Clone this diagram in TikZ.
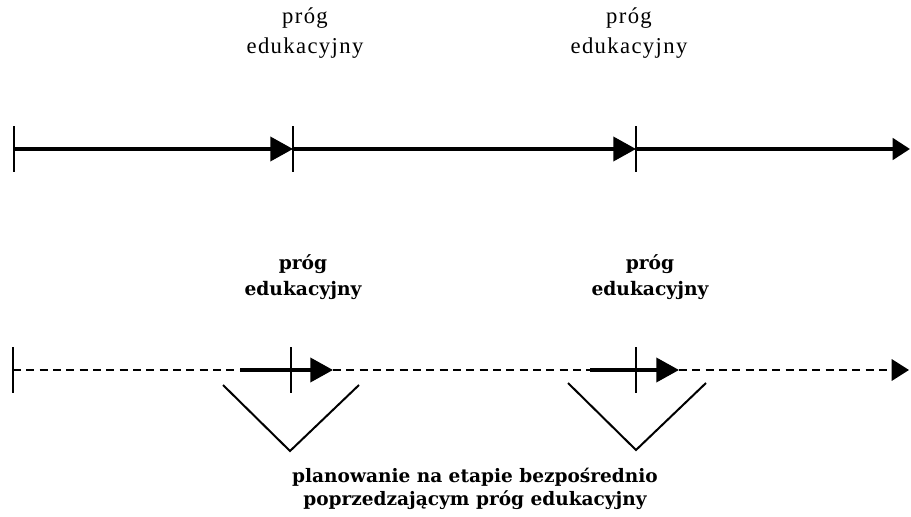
\documentclass[tikz,border=0pt]{standalone}
\usepackage{fontspec}
\setmainfont{Liberation Serif}
\newfontfamily\toplabelfont[LetterSpace=6]{Liberation Serif}
\newfontfamily\slabfont{DejaVu Serif}
\usetikzlibrary{arrows.meta}

\tikzset{every picture/.style={line width=0.75pt}}

\begin{document}
\begin{tikzpicture}[x=0.75pt,y=0.75pt,yscale=-1,xscale=1,
	axisline/.style={line width=2.8pt},
	dashline/.style={line width=1.8pt,dash pattern=on 6pt off 4pt},
	tickmark/.style={line width=2.1pt},
	vline/.style={line width=1.5pt},
	midtip/.style={-{Triangle[length=17pt,width=18pt]}},
	endtip/.style={-{Triangle[length=13pt,width=16pt]}},
	toplabel/.style={align=center,font=\toplabelfont\fontsize{17}{22}\selectfont},
	midlabel/.style={align=center,font=\slabfont\bfseries\fontsize{14}{20}\selectfont},
	notelabel/.style={align=center,font=\slabfont\bfseries\fontsize{13.9}{17.5}\selectfont}]
	\useasboundingbox (0,0) rectangle (911,517);

	%Upper time line
	\coordinate (a0) at (14,149);
	\coordinate (a1) at (293,149);
	\coordinate (a2) at (636,149);
	\coordinate (a3) at (910,149);
	%Straight Lines
	\draw [axisline,midtip] (a0) -- (a1);
	\draw [axisline,midtip] (a1) -- (a2);
	\draw [axisline,endtip] (a2) -- (a3);
	%Ticks
	\foreach \p in {a0,a1,a2}
		\draw [tickmark] ([yshift=17pt]\p) -- ([yshift=-17pt]\p);

	%Lower time line
	\coordinate (b0) at (13,370);
	\coordinate (b1s) at (240,370);
	\coordinate (b1) at (291,370);
	\coordinate (b1e) at (333,370);
	\coordinate (b2s) at (590,370);
	\coordinate (b2) at (636,370);
	\coordinate (b2e) at (679,370);
	\coordinate (b3) at (909,370);
	%Dashed Lines
	\draw [dashline] (b0) -- (b1s);
	\draw [dashline] (b1e) -- (b2s);
	\draw [dashline,endtip] (b2e) -- (b3);
	%Solid pieces
	\draw [axisline,midtip] (b1s) -- (b1e);
	\draw [axisline,midtip] (b2s) -- (b2e);
	%Ticks
	\foreach \p in {b0,b1,b2}
		\draw [tickmark] ([yshift=17pt]\p) -- ([yshift=-17pt]\p);

	%Brackets
	\coordinate (v1l) at (223,385);
	\coordinate (v1) at (290,451);
	\coordinate (v1r) at (359,385);
	\coordinate (v2l) at (568,383);
	\coordinate (v2) at (636,450);
	\coordinate (v2r) at (706,383);
	\draw [vline] (v1l) -- (v1) -- (v1r);
	\draw [vline] (v2l) -- (v2) -- (v2r);

	% Text Node
	\node [toplabel] (top1) at (305,33) {próg\\edukacyjny};
	% Text Node
	\node [toplabel] (top2) at (629,33) {próg\\edukacyjny};
	% Text Node
	\node [midlabel] (mid1) at (303,277) {próg\\edukacyjny};
	% Text Node
	\node [midlabel] (mid2) at (650,277) {próg\\edukacyjny};
	% Text Node
	\node [notelabel] (note) at (475,489) {planowanie na etapie bezpośrednio\\poprzedzającym próg edukacyjny};

\end{tikzpicture}
\end{document}
